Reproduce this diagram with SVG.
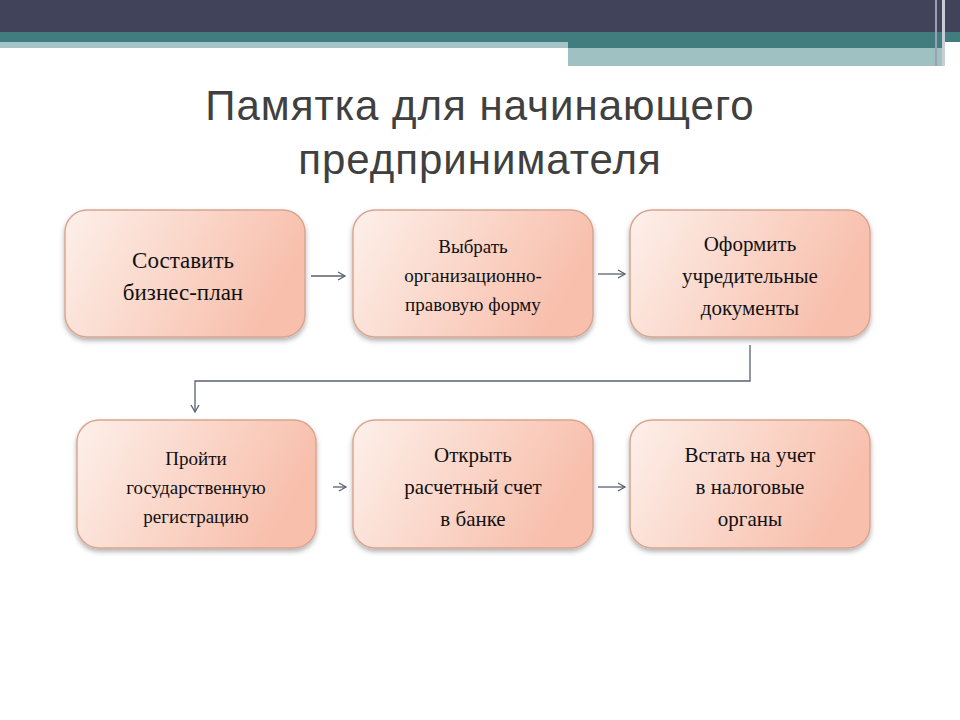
<svg xmlns="http://www.w3.org/2000/svg" width="960" height="720" viewBox="0 0 960 720">
<defs>
<linearGradient id="g" x1="0" y1="0" x2="1" y2="0.3">
<stop offset="0" stop-color="#fdf0ea"/><stop offset="1" stop-color="#f8bfac"/>
</linearGradient>
<filter id="s" x="-10%" y="-10%" width="120%" height="130%"><feDropShadow dx="0" dy="3" stdDeviation="2.5" flood-color="#000" flood-opacity="0.3"/></filter>
<marker id="a" markerWidth="10" markerHeight="10" refX="8" refY="5" orient="auto" markerUnits="userSpaceOnUse"><path d="M1,1 L8,5 L1,9" fill="none" stroke="#5a6070" stroke-width="1.3"/></marker>
</defs>
<style>
.b{fill:url(#g);stroke:#d9a590;stroke-width:1.5;filter:url(#s)}
.t{font-family:"Liberation Serif",serif;fill:#111;text-anchor:middle}
.c{fill:none;stroke:#5a6070;stroke-width:1.3;marker-end:url(#a)}
</style>
<rect width="960" height="720" fill="#fff"/>
<rect x="0" y="0" width="960" height="32" fill="#40435a"/>
<rect x="0" y="32" width="960" height="10" fill="#417c7e"/>
<rect x="0" y="42" width="568" height="6" fill="#a8c3c6"/>
<rect x="568" y="42" width="377" height="6" fill="#417c7e"/>
<rect x="568" y="48" width="377" height="18" fill="#a0c1c1"/>
<rect x="935" y="0" width="2" height="66" fill="#9aa0b0"/>
<rect x="942" y="0" width="3" height="66" fill="#c8ccd6"/>
<text x="480" y="120" font-family="Liberation Sans,sans-serif" font-size="42" fill="#404040" text-anchor="middle" letter-spacing="1">Памятка для начинающего</text>
<text x="480" y="174" font-family="Liberation Sans,sans-serif" font-size="42" fill="#404040" text-anchor="middle" letter-spacing="1">предпринимателя</text>
<g id="connectors">
<line class="c" x1="311" y1="276" x2="345" y2="276"/>
<line class="c" x1="598" y1="274" x2="625" y2="274"/>
<polyline class="c" points="750,345 750,381 195,381 195,412"/>
<line class="c" x1="333" y1="487" x2="346" y2="487"/>
<line class="c" x1="598" y1="487" x2="625" y2="487"/>
</g>
<g id="n1"><rect class="b" x="65" y="210" width="240" height="127" rx="22"/><text class="t" font-size="23"><tspan x="183" y="268">Составить</tspan><tspan x="183" y="300">бизнес-план</tspan></text></g>
<g id="n2"><rect class="b" x="353" y="210" width="240" height="127" rx="22"/><text class="t" font-size="19"><tspan x="473" y="253">Выбрать</tspan><tspan x="473" y="282">организационно-</tspan><tspan x="473" y="311">правовую форму</tspan></text></g>
<g id="n3"><rect class="b" x="630" y="210" width="240" height="127" rx="22"/><text class="t" font-size="21"><tspan x="750" y="251">Оформить</tspan><tspan x="750" y="283">учредительные</tspan><tspan x="750" y="315">документы</tspan></text></g>
<g id="n4"><rect class="b" x="77" y="420" width="239" height="128" rx="22"/><text class="t" font-size="19"><tspan x="196" y="465">Пройти</tspan><tspan x="196" y="494">государственную</tspan><tspan x="196" y="523">регистрацию</tspan></text></g>
<g id="n5"><rect class="b" x="353" y="420" width="240" height="128" rx="22"/><text class="t" font-size="21"><tspan x="473" y="462">Открыть</tspan><tspan x="473" y="494">расчетный счет</tspan><tspan x="473" y="526">в банке</tspan></text></g>
<g id="n6"><rect class="b" x="630" y="420" width="240" height="128" rx="22"/><text class="t" font-size="21"><tspan x="750" y="462">Встать на учет</tspan><tspan x="750" y="494">в налоговые</tspan><tspan x="750" y="526">органы</tspan></text></g>
</svg>
